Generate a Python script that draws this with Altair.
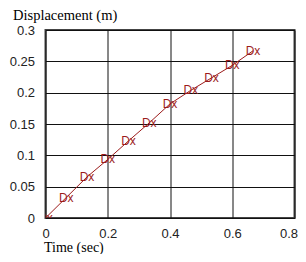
import altair as alt
import pandas as pd

time_s = [0, 0.0667, 0.1333, 0.2, 0.2667, 0.3333, 0.4, 0.4667, 0.5333, 0.6, 0.6667]
disp_m = [0, 0.0327, 0.0655, 0.0935, 0.123, 0.1518, 0.1821, 0.2037, 0.2236, 0.2436, 0.2668]
labels = ["Dx"] * len(time_s)

x_ticks = [0, 0.2, 0.4, 0.6, 0.8]
y_ticks = [0, 0.05, 0.1, 0.15, 0.2, 0.25, 0.3]

df = pd.DataFrame({"t": time_s, "d": disp_m, "lab": labels})

red = "#9b1b1b"

x_enc = alt.X(
    "t:Q",
    scale=alt.Scale(domain=[0, 0.8], nice=False, zero=True),
    axis=alt.Axis(
        values=x_ticks, tickCount=20, format="~g", title="Time (sec)",
        grid=True, gridColor="#111", gridWidth=1, gridOpacity=1,
        domain=False, ticks=False, labelOverlap=False,
        labelFont="Liberation Sans", labelFontSize=13, labelColor="#222",
        labelPadding=9, labelBaseline="top", labelFlush=False,
        labelAlign={"condition": {"test": "datum.value >= 0.79", "value": "right"}, "value": "center"},
        labelOffset={"condition": {"test": "datum.value >= 0.79", "value": 3}, "value": 0},
        titleFont="Liberation Serif", titleFontSize=14, titleFontWeight="normal",
        titleColor="#000", titleAlign="left", titleBaseline="alphabetic",
        titleAnchor="start", titleX=-2, titleY=33.5,
    ),
)
y_enc = alt.Y(
    "d:Q",
    scale=alt.Scale(domain=[0, 0.3], nice=False, zero=True),
    axis=alt.Axis(
        values=y_ticks, tickCount=20, format="~g", title="Displacement (m)",
        grid=True, gridColor="#111", gridWidth=1, gridOpacity=1,
        domain=False, ticks=False, labelOverlap=False,
        labelFont="Liberation Sans", labelFontSize=13, labelColor="#222",
        labelPadding=11, labelBaseline="middle", labelFlush=False,
        titleFont="Liberation Serif", titleFontSize=14.5, titleFontWeight="normal",
        titleColor="#000", titleAngle=0, titleAlign="left", titleBaseline="alphabetic",
        titleAnchor="start", titleX=-33, titleY=-11,
    ),
)

base = alt.Chart(df)
line = base.mark_line(color=red, strokeWidth=1, clip=True).encode(x=x_enc, y=y_enc)
text = base.mark_text(
    color=red, font="Liberation Sans", fontSize=12, align="center",
    baseline="middle", clip=True
).encode(x="t:Q", y="d:Q", text="lab:N")

chart = (
    alt.layer(line, text)
    .properties(
        width=249, height=188,
        autosize=alt.AutoSizeParams(type="none"),
        padding={"left": 37.5, "top": 22, "right": 3.5, "bottom": 36},
        background="white",
    )
    .configure_view(stroke="#444", strokeWidth=2)
)

chart.save("out.html", embed_options={"renderer": "svg", "actions": False})
